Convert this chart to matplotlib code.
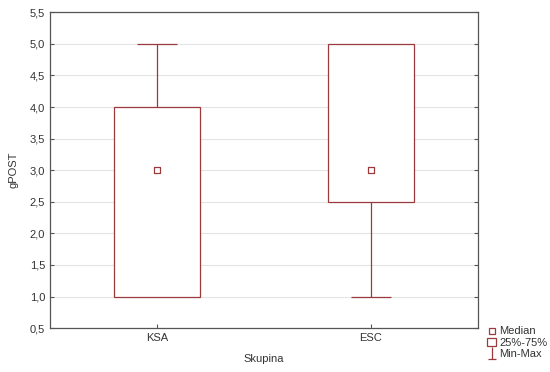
import matplotlib
matplotlib.use("Agg")
import matplotlib.pyplot as plt
from matplotlib.lines import Line2D
from matplotlib.patches import Rectangle
from matplotlib.path import Path
from matplotlib.ticker import FuncFormatter

groups = ["KSA", "ESC"]
medians = [3.0, 3.0]
q1 = [1.0, 2.5]
q3 = [4.0, 5.0]
mins = [1.0, 1.0]
maxs = [5.0, 5.0]

red = "#9B3A3C"
plt.rcParams["font.family"] = ["Liberation Sans", "DejaVu Sans"]

fig = plt.figure(figsize=(5.5, 3.72), dpi=100)
ax = fig.add_axes([0.091, 0.118, 0.778, 0.849])

pos = list(range(1, len(groups) + 1))
ax.bar(pos, [b - a for a, b in zip(q1, q3)], bottom=q1, width=0.4,
       facecolor="white", edgecolor=red, linewidth=0.9, zorder=3)
for p, lo, hi, a, b in zip(pos, mins, maxs, q1, q3):
    if hi > b:
        ax.vlines(p, b, hi, color=red, lw=0.9, zorder=3)
        ax.hlines(hi, p - 0.095, p + 0.095, color=red, lw=0.9, zorder=3)
    if lo < a:
        ax.vlines(p, lo, a, color=red, lw=0.9, zorder=3)
        ax.hlines(lo, p - 0.095, p + 0.095, color=red, lw=0.9, zorder=3)
ax.scatter(pos, medians, marker="s", s=14, facecolor="white", edgecolor=red,
           linewidth=0.9, zorder=4)

ax.set_xlim(0.5, 2.5)
ax.set_ylim(0.5, 5.5)
ax.set_xticks(pos)
ax.set_xticklabels(groups)
ax.set_yticks([0.5 + 0.5 * i for i in range(11)])
ax.yaxis.set_major_formatter(FuncFormatter(lambda v, _: f"{v:.1f}".replace(".", ",")))
ax.grid(axis="y", color="#e4e4e4", lw=0.8, zorder=0)
ax.tick_params(axis="both", labelsize=8, color="#555555", length=3, direction="in",
               right=True, labelcolor="#333333")
for s in ax.spines.values():
    s.set_color("#555555")
    s.set_linewidth(0.9)
ax.set_xlabel("Skupina", fontsize=8, color="#333333", labelpad=8)
ax.set_ylabel("gPOST", fontsize=8, color="#333333", labelpad=8)

whisker_icon = Path([(0, -1), (0, 1), (-0.7, -1), (0.7, -1)],
                    [Path.MOVETO, Path.LINETO, Path.MOVETO, Path.LINETO])
handles = [
    Line2D([], [], marker="s", ls="none", markersize=4, markerfacecolor="white",
           markeredgecolor=red, markeredgewidth=0.9),
    Rectangle((0, 0), 1, 1, facecolor="white", edgecolor=red, lw=0.9),
    Line2D([], [], marker=whisker_icon, ls="none", markersize=9, markeredgewidth=0.9,
           markeredgecolor=red, markerfacecolor="none"),
]
fig.legend(handles, ["Median", "25%-75%", "Min-Max"], loc="lower left",
           bbox_to_anchor=(0.872, 0.015), frameon=False, fontsize=8,
           labelcolor="#333333",
           handlelength=0.8, handletextpad=0.3, labelspacing=0.1, borderpad=0.2)

fig.savefig("out.png", dpi=100)
